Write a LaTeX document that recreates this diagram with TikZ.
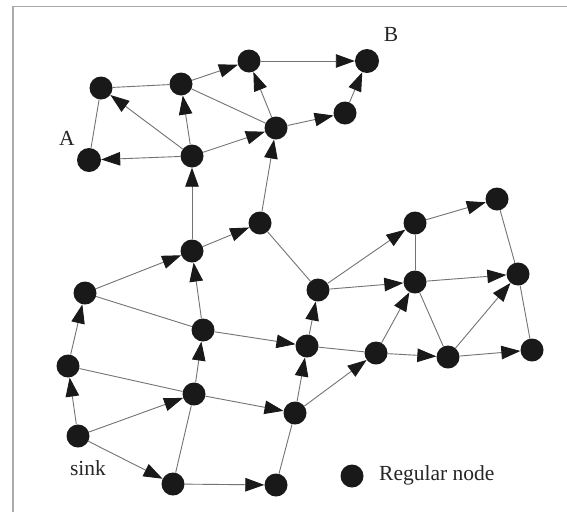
\documentclass[tikz,border=0pt]{standalone}
\usepackage{fontspec}
\setmainfont{Liberation Serif}
\usetikzlibrary{arrows.meta}
\definecolor{linegray}{RGB}{115,115,115}
\definecolor{dotblack}{RGB}{25,25,25}
\definecolor{framegray}{RGB}{170,170,170}
\tikzset{
  dot/.style={circle, fill=dotblack, draw=none, minimum size=23pt, inner sep=0pt},
  bigdot/.style={dot, minimum size=24pt},
  plain/.style={draw=linegray, line width=0.9pt},
  arr/.style={plain, -{Triangle[length=19pt,width=13.5pt,color=dotblack]}},
  lab/.style={font=\fontsize{21.5}{23}\selectfont, text=black!85, inner sep=0pt}
}
\begin{document}
\begin{tikzpicture}[x=1pt,y=-1pt]
\useasboundingbox (0,0) rectangle (567,512);
\fill[white] (0,0) rectangle (567,512);
\draw[framegray, line width=1.5pt] (12,6.5) -- (567,6.5);
\draw[framegray, line width=1.5pt] (13,6.5) -- (13,512);
% nodes
\node[dot] (n1) at (101,88) {};
\node[dot] (n2) at (181,84) {};
\node[bigdot] (A) at (89,160) {};
\node[dot] (n3) at (192,156) {};
\node[dot] (n4) at (249,61) {};
\node[bigdot] (B) at (367,61) {};
\node[dot] (n5) at (276,128) {};
\node[dot] (n6) at (345,113) {};
\node[dot] (n7) at (192,251) {};
\node[dot] (n8) at (85,293) {};
\node[dot] (n9) at (203,330) {};
\node[dot] (n10) at (260,223) {};
\node[dot] (n11) at (318,290) {};
\node[dot] (n12) at (307,346) {};
\node[dot] (n13) at (376,353) {};
\node[dot] (n14) at (415,223) {};
\node[dot] (n15) at (415,282) {};
\node[dot] (n16) at (497,199) {};
\node[dot] (n17) at (518,274) {};
\node[dot] (n18) at (448,357) {};
\node[dot] (n19) at (532,350) {};
\node[dot] (n20) at (68,366) {};
\node[dot] (n21) at (194,394) {};
\node[dot] (sink) at (78,436) {};
\node[dot] (n22) at (173,484) {};
\node[dot] (n23) at (295,413) {};
\node[dot] (n24) at (276,485) {};
\node[dot] (leg) at (352,476) {};
% labels
\node[lab] (labA) at (67,138) {A};
\node[lab] (labB) at (391,34) {B};
\node[lab] (labsink) at (88,468) {sink};
\node[lab, anchor=west] (lableg) at (379,475) {Regular node};
% plain edges
\draw[plain] (n1) -- (A);
\draw[plain] (n1) -- (n2);
\draw[plain] (n2) -- (n5);
\draw[plain] (n8) -- (n9);
\draw[plain] (n10) -- (n11);
\draw[plain] (n12) -- (n13);
\draw[plain] (n14) -- (n15);
\draw[plain] (n15) -- (n18);
\draw[plain] (n16) -- (n17);
\draw[plain] (n17) -- (n19);
\draw[plain] (n24) -- (n23);
\draw[plain] (n22) -- (n21);
\draw[plain] (n20) -- (n21);
% arrows
\draw[arr] (n3) -- (n1);
\draw[arr] (n3) -- (A);
\draw[arr] (n3) -- (n2);
\draw[arr] (n2) -- (n4);
\draw[arr] (n3) -- (n5);
\draw[arr] (n5) -- (n4);
\draw[arr] (n4) -- (B);
\draw[arr] (n5) -- (n6);
\draw[arr] (n6) -- (B);
\draw[arr] (n10) -- (n5);
\draw[arr] (n7) -- (n3);
\draw[arr] (n7) -- (n10);
\draw[arr] (n8) -- (n7);
\draw[arr] (n9) -- (n7);
\draw[arr] (n11) -- (n14);
\draw[arr] (n11) -- (n15);
\draw[arr] (n12) -- (n11);
\draw[arr] (n9) -- (n12);
\draw[arr] (n13) -- (n15);
\draw[arr] (n13) -- (n18);
\draw[arr] (n14) -- (n16);
\draw[arr] (n15) -- (n17);
\draw[arr] (n18) -- (n17);
\draw[arr] (n18) -- (n19);
\draw[arr] (n23) -- (n12);
\draw[arr] (n23) -- (n13);
\draw[arr] (n21) -- (n23);
\draw[arr] (n22) -- (n24);
\draw[arr] (sink) -- (n21);
\draw[arr] (sink) -- (n22);
\draw[arr] (sink) -- (n20);
\draw[arr] (n20) -- (n8);
\draw[arr] (n21) -- (n9);
\end{tikzpicture}
\end{document}
